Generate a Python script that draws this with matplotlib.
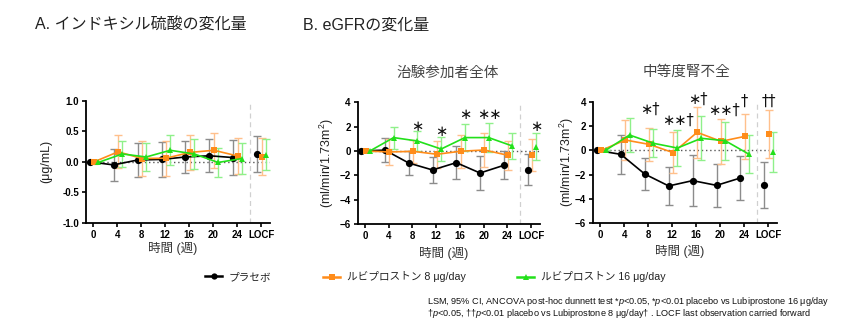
import matplotlib
matplotlib.use("Agg")
import matplotlib.pyplot as plt
from matplotlib.lines import Line2D
import numpy as np

plt.rcParams['font.family'] = ['Liberation Sans', 'Noto Sans CJK JP', 'DejaVu Sans']
plt.rcParams['mathtext.fontset'] = 'custom'
plt.rcParams['mathtext.rm'] = 'Liberation Sans'
plt.rcParams['mathtext.it'] = 'Liberation Sans:italic'

###############################################
# data
###############################################

weeks = [0, 4, 8, 12, 16, 20, 24]
locf_week = 28
tick_labels = ["0", "4", "8", "12", "16", "20", "24", "LOCF"]
series_names = ["プラセボ", "ルビプロストン 8 μg/day", "ルビプロストン 16 μg/day"]

# panel A: indoxyl sulfate (last value = LOCF)
a_placebo = [0, -0.05, 0.03, 0.04, 0.08, 0.10, 0.07, 0.13]
a_placebo_ci = [0, 0.26, 0.28, 0.29, 0.27, 0.27, 0.29, 0.30]
a_lub8 = [0, 0.165, 0.055, 0.06, 0.155, 0.19, 0.095, 0.085]
a_lub8_ci = [0.03, 0.27, 0.28, 0.29, 0.285, 0.285, 0.29, 0.30]
a_lub16 = [-0.01, 0.13, 0.08, 0.19, 0.13, -0.01, 0.055, 0.12]
a_lub16_ci = [0, 0.22, 0.23, 0.245, 0.24, 0.24, 0.25, 0.25]

# panel B: eGFR, all participants
b_placebo = [0, 0.07, -0.99, -1.56, -0.96, -1.81, -1.18, -1.53]
b_placebo_ci = [0, 0.99, 0.99, 1.1, 1.33, 1.37, 1.15, 1.28]
b_lub8 = [0, -0.08, -0.03, -0.27, -0.02, 0.08, -0.36, -0.33]
b_lub8_ci = [0, 1.07, 0.93, 1.13, 1.37, 1.4, 1.2, 1.3]
b_lub16 = [0, 1.1, 0.82, 0.16, 1.1, 1.1, 0.41, 0.36]
b_lub16_ci = [0, 0.9, 0.86, 0.99, 1.12, 1.2, 1.1, 1.1]
b_marks = ["∗", "∗", "∗", "∗∗", "∗"]
b_mark_x = [8.8, 12.8, 16.9, 20.9, 28.9]
b_mark_y = [2.05, 1.6, 3.0, 3.0, 2.05]

# panel C: eGFR, moderate renal impairment
c_placebo = [0, -0.33, -1.95, -2.93, -2.49, -2.88, -2.27, -2.85]
c_placebo_ci = [0, 1.6, 1.3, 1.6, 2.07, 1.77, 1.8, 1.86]
c_lub8 = [0, 0.85, 0.49, -0.19, 1.48, 0.74, 1.15, 1.34]
c_lub8_ci = [0, 1.64, 1.36, 1.67, 2.1, 1.85, 1.85, 1.96]
c_lub16 = [0, 1.26, 0.58, 0.19, 0.99, 0.79, -0.33, -0.16]
c_lub16_ci = [0, 1.41, 1.15, 1.45, 1.82, 1.58, 1.57, 1.65]
c_marks = ["∗†", "∗∗†", "∗†", "∗∗†", "†", "††"]
c_mark_x = [8.3, 12.9, 16.2, 20.6, 24.0, 28.1]
c_mark_y = [3.37, 2.44, 4.2, 3.3, 4.0, 4.0]

###############################################
# styles
###############################################

line_colors = ["black", "#ff8c1a", "#22e01a"]
err_colors = ["#8c8c8c", "#ffc08c", "#8ff08a"]
markers = ["o", "s", "^"]
offsets = [-0.6, 0.15, 0.85]

fig = plt.figure(figsize=(8.64, 3.32), dpi=100)
W, H = 864.0, 332.0


def add_panel(left_px, top_px, right_px, bottom_px):
    return fig.add_axes([left_px / W, 1 - bottom_px / H, (right_px - left_px) / W, (bottom_px - top_px) / H])


def draw_panel(ax, series, cis, ylim, yticks, ylabel, ylab_x, xlab_y):
    xs_all = weeks + [locf_week]
    for i in range(3):
        xs = np.array(xs_all, dtype=float) + offsets[i]
        vals = np.array(series[i])
        ci = np.array(cis[i])
        ax.errorbar(xs, vals, yerr=ci, fmt="none", ecolor=err_colors[i], elinewidth=1.0,
                    capsize=2.6, capthick=1.0, zorder=2 + i)
        ax.plot(xs[:7], vals[:7], color=line_colors[i], lw=1.2, zorder=5 + i)
        ax.plot(xs, vals, linestyle="none", marker=markers[i], markersize=5 if i else 5.2,
                color=line_colors[i], markeredgewidth=0, zorder=6 + i)
    ax.axhline(0, color="#555555", lw=1.0, ls=(0, (1, 2)), zorder=1)
    ax.axvline(26.2, color="#d0d0d0", lw=0.9, ls=(0, (4, 3)), zorder=1)
    ax.set_xlim(-1.2, 29.5)
    ax.set_ylim(*ylim)
    ax.set_yticks(yticks)
    ax.set_xticks(xs_all)
    ax.set_xticklabels(tick_labels)
    for s in ["top", "right"]:
        ax.spines[s].set_visible(False)
    for s in ["left", "bottom"]:
        ax.spines[s].set_linewidth(1.3)
    ax.tick_params(direction="out", length=3, width=1.2, labelsize=7, pad=2)
    for lab in ax.get_xticklabels() + ax.get_yticklabels():
        lab.set_fontweight("bold")
    ax.set_ylabel(ylabel, fontsize=9, color="#222222")
    ax.yaxis.set_label_coords(ylab_x, 0.5)
    ax.set_xlabel("時間 (週)", fontsize=9, color="#333333")
    ax.xaxis.set_label_coords(0.47, xlab_y)


ax_a = add_panel(86, 101, 270, 222.7)
draw_panel(ax_a, [a_placebo, a_lub8, a_lub16], [a_placebo_ci, a_lub8_ci, a_lub16_ci],
           (-1.0, 1.0), [-1.0, -0.5, 0.0, 0.5, 1.0], "(μg/mL)", -0.185, -0.159)
ax_a.set_yticklabels(["-1.0", "-0.5", "0.0", "0.5", "1.0"])
for lab in ax_a.get_yticklabels():
    lab.set_fontweight("bold")

ax_b = add_panel(357.7, 102.3, 540, 224)
draw_panel(ax_b, [b_placebo, b_lub8, b_lub16], [b_placebo_ci, b_lub8_ci, b_lub16_ci],
           (-6, 4), [-6, -4, -2, 0, 2, 4], "(ml/min/1.73m$^{2}$)", -0.12, -0.185)

ax_c = add_panel(593.3, 101.7, 777, 223.3)
draw_panel(ax_c, [c_placebo, c_lub8, c_lub16], [c_placebo_ci, c_lub8_ci, c_lub16_ci],
           (-6, 4), [-6, -4, -2, 0, 2, 4], "(ml/min/1.73m$^{2}$)", -0.095, -0.174)

for ax, marks, mx, my in [(ax_b, b_marks, b_mark_x, b_mark_y), (ax_c, c_marks, c_mark_x, c_mark_y)]:
    for t, x, y in zip(marks, mx, my):
        ax.text(x, y, t, ha="center", va="center", fontsize=10.5, color="#111111",
                family=["DejaVu Sans"], clip_on=False)

# titles
fig.text(35 / W, 1 - 25 / H, "A. インドキシル硫酸の変化量", fontsize=11.5, color="#222222", va="center")
fig.text(303 / W, 1 - 25 / H, "B. eGFRの変化量", fontsize=11.5, color="#222222", va="center")
fig.text(448 / W, 1 - 72.7 / H, "治験参加者全体", fontsize=10.5, color="#444444", ha="center", va="center")
fig.text(686 / W, 1 - 72 / H, "中等度腎不全", fontsize=10.5, color="#444444", ha="center", va="center")

# legend (three separate entries)
legend_x = [205, 323, 517]
for i in range(3):
    h = Line2D([], [], color=line_colors[i], lw=1.8, marker=markers[i], markersize=4.5, markeredgewidth=0)
    leg = fig.legend([h], [series_names[i]], loc="center left",
                     bbox_to_anchor=(legend_x[i] / W, 1 - 277 / H), frameon=False,
                     fontsize=7.7, handlelength=1.6, handletextpad=0.6, borderpad=0, borderaxespad=0)
    for t in leg.get_texts():
        t.set_color("#222222")

# footnote
fig.text(427 / W, 1 - 301 / H,
         r"LSM, 95% CI, ANCOVA post-hoc dunnett test *$\it{p}$<0.05, *$\it{p}$<0.01 placebo vs Lubiprostone 16 μg/day",
         fontsize=6.6, va="center", color="#111111")
fig.text(427 / W, 1 - 313.5 / H,
         r"†$\it{p}$<0.05, ††$\it{p}$<0.01 placebo vs Lubiprostone 8 μg/day† . LOCF last observation carried forward",
         fontsize=6.6, va="center", color="#111111")

plt.savefig("out.png", dpi=100)
plt.close()
